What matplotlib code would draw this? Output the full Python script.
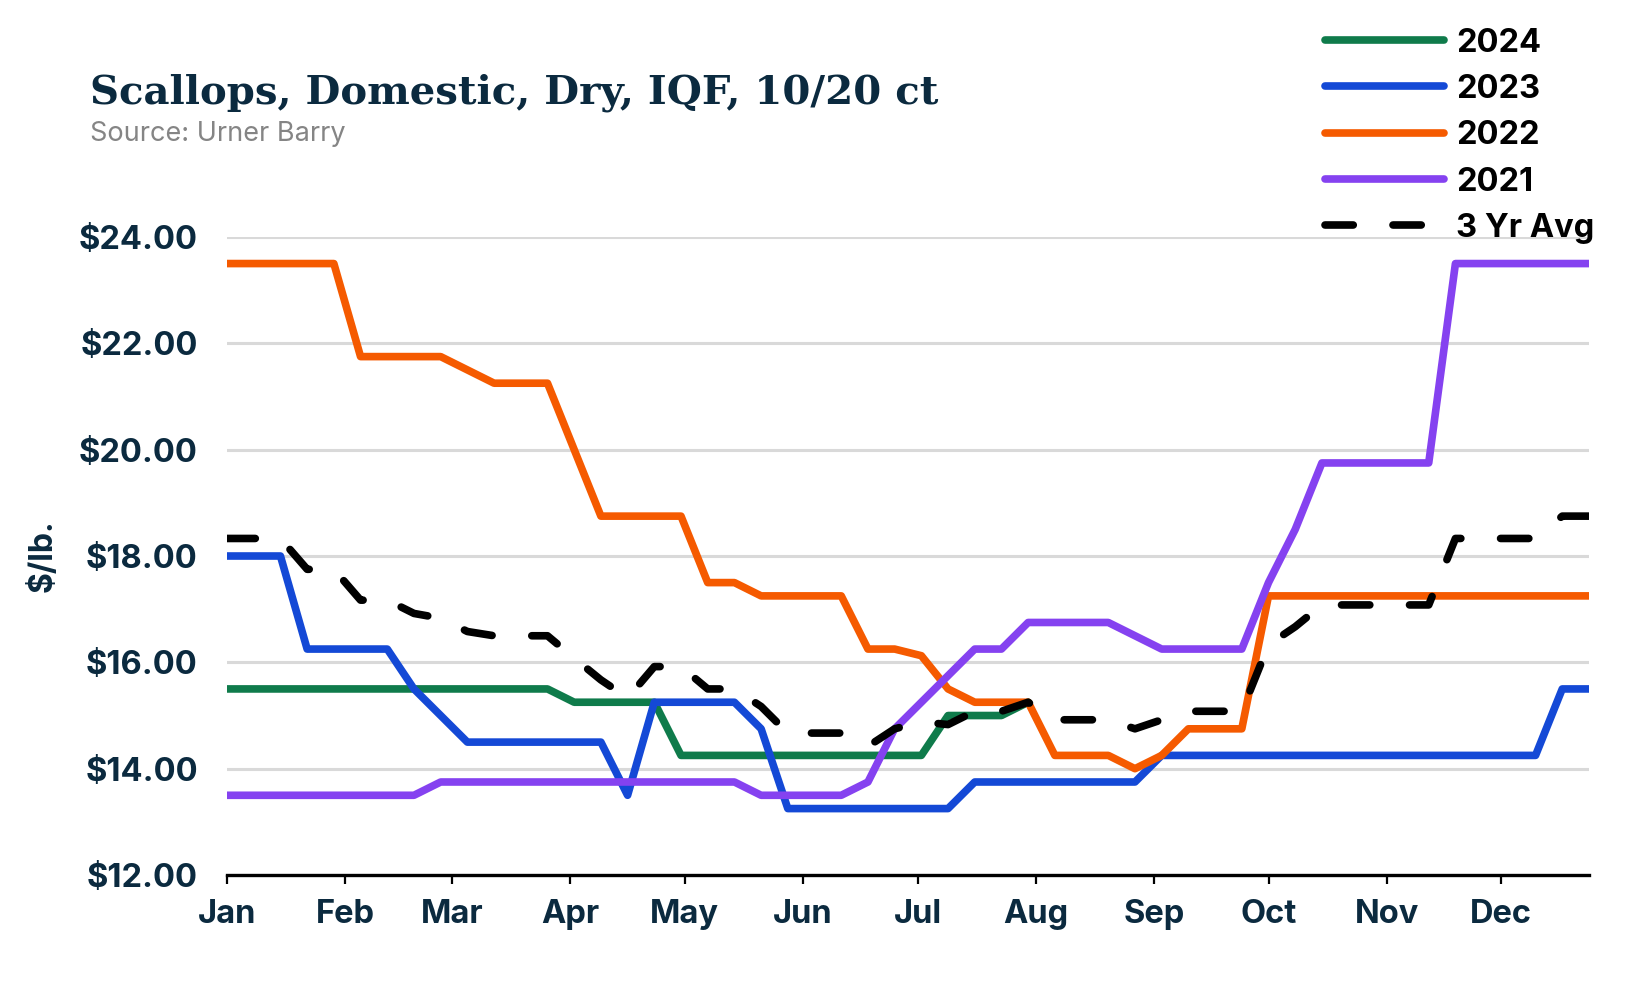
import matplotlib
matplotlib.use("Agg")
import matplotlib.pyplot as plt
import matplotlib.dates as mdates
from matplotlib.ticker import FuncFormatter
import numpy as np
import pandas as pd

# weekly prices, $/lb
y2024 = [15.5] * 13 + [15.25] * 4 + [14.25] * 10 + [15.0] * 3 + [15.25]
y2023 = ([18.0] * 3 + [16.25] * 4 + [15.5, 15.0] + [14.5] * 6 + [13.5]
         + [15.25] * 4 + [14.75] + [13.25] * 7 + [13.75] * 7 + [14.25] * 15 + [15.5] * 2)
y2022 = ([23.5] * 5 + [21.75] * 4 + [21.5] + [21.25] * 3 + [20.0] + [18.75] * 4
         + [17.5] * 2 + [17.25] * 4 + [16.25] * 2 + [16.125, 15.5] + [15.25] * 3
         + [14.25] * 3 + [14.0, 14.25] + [14.75] * 3 + [17.25] * 13)
y2021 = ([13.5] * 8 + [13.75] * 12 + [13.5] * 4 + [13.75, 14.75, 15.25, 15.75]
         + [16.25] * 2 + [16.75] * 4 + [16.5] + [16.25] * 4 + [17.5, 18.5]
         + [19.75] * 5 + [23.5] * 6)
avg3 = [18.33, 18.33, 18.33, 17.75, 17.75, 17.17, 17.17, 16.92, 16.83, 16.58,
        16.5, 16.5, 16.5, 16.08, 15.67, 15.33, 15.92, 15.92, 15.5, 15.5,
        15.17, 14.67, 14.67, 14.67, 14.42, 14.75, 14.88, 14.83, 15.08, 15.08,
        15.25, 14.92, 14.92, 14.92, 14.75, 14.92, 15.08, 15.08, 15.08, 16.33,
        16.67, 17.08, 17.08, 17.08, 17.08, 17.08, 18.33, 18.33, 18.33, 18.33,
        18.75, 18.75]

labels = ['2024', '2023', '2022', '2021']
colors = ['#0f7b4b', '#1449d6', '#f55a00', '#8542f0']
navy = '#0b2a3f'

weeks = pd.date_range('2023-01-01', periods=52, freq='7D')

plt.rcParams['font.family'] = ['Inter', 'DejaVu Sans']
plt.rcParams['font.weight'] = 'bold'

fig = plt.figure(figsize=(16.5, 10.02), dpi=100)
ax = fig.add_axes([0.1376, 0.1267, 0.8254, 0.6368])

for y, c, lab in zip([y2024, y2023, y2022, y2021], colors, labels):
    ax.plot(weeks[:len(y)], y, color=c, lw=5.5, label=lab,
            solid_capstyle='round', solid_joinstyle='round')
ax.plot(weeks, avg3, color='black', lw=5.5, label='3 Yr Avg',
        dashes=(3.7, 5.2), dash_capstyle='round', dash_joinstyle='round')

ax.set_xlim(weeks[0], weeks[-1])
ax.set_ylim(12, 24)
ax.set_yticks(np.arange(12, 25, 2))
ax.yaxis.set_major_formatter(FuncFormatter(lambda v, p: '${:.2f}'.format(v)))
ax.xaxis.set_major_locator(mdates.MonthLocator())
ax.xaxis.set_major_formatter(mdates.DateFormatter('%b'))

ax.yaxis.grid(True, color='#d9d9d9', lw=2.2)
ax.set_axisbelow(True)
for s in ['left', 'top', 'right']:
    ax.spines[s].set_visible(False)
ax.spines['bottom'].set_linewidth(2.4)

ax.tick_params(axis='y', length=0, pad=21, labelsize=23.5, labelcolor=navy)
ax.tick_params(axis='x', length=6.5, width=1.6, pad=11, labelsize=23.5, labelcolor=navy)

ax.set_ylabel('$/lb.', fontsize=23, color=navy, fontweight='bold')
ax.yaxis.set_label_coords(-0.124, 0.5)

fig.text(0.0545, 0.8972, 'Scallops, Domestic, Dry, IQF, 10/20 ct', fontsize=29,
         family='DejaVu Serif', weight='bold', color=navy, va='baseline')
fig.text(0.0545, 0.859, 'Source: Urner Barry', fontsize=19.5, color='#858585',
         weight='normal', va='baseline')

fig.legend(loc='upper left', bbox_to_anchor=(0.803, 0.9725), frameon=False,
           fontsize=23.5, handlelength=3.65, handletextpad=0.38, labelspacing=0.47,
           borderpad=0, borderaxespad=0)

fig.savefig('out.png', dpi=100)
